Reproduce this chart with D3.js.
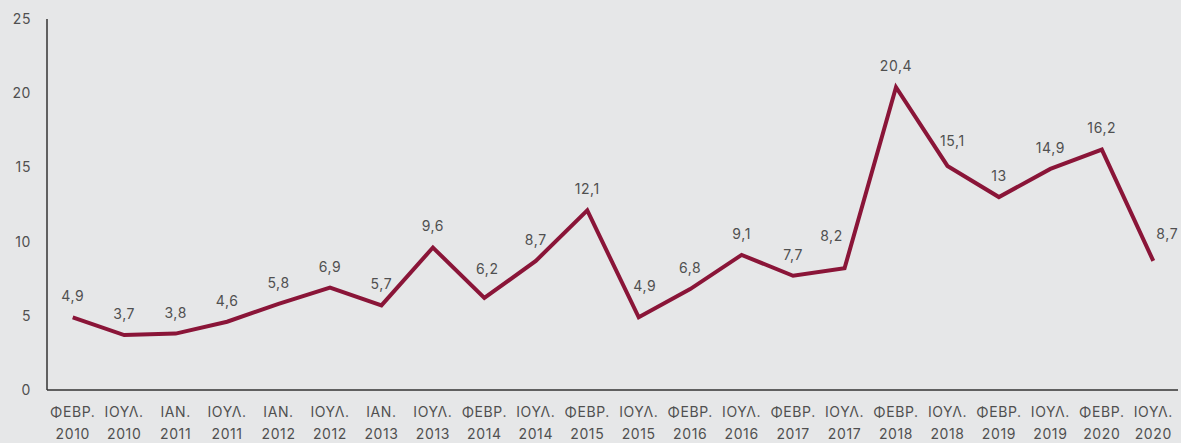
<!DOCTYPE html>
<html>
<head>
<meta charset="utf-8">
<script src="https://cdn.jsdelivr.net/npm/d3@7"></script>
<style>
  html, body { margin: 0; padding: 0; background: #e6e7e8; }
  svg { display: block; }
  text { font-family: "Inter", "Noto Sans", sans-serif; fill: #505050; letter-spacing: 0.6px; }
</style>
</head>
<body>
<svg id="chart" width="1181" height="443"></svg>
<script>
const months = ["ΦΕΒΡ.", "ΙΟΥΛ.", "ΙΑΝ.", "ΙΟΥΛ.", "ΙΑΝ.", "ΙΟΥΛ.", "ΙΑΝ.", "ΙΟΥΛ.", "ΦΕΒΡ.", "ΙΟΥΛ.", "ΦΕΒΡ.",
                "ΙΟΥΛ.", "ΦΕΒΡ.", "ΙΟΥΛ.", "ΦΕΒΡ.", "ΙΟΥΛ.", "ΦΕΒΡ.", "ΙΟΥΛ.", "ΦΕΒΡ.", "ΙΟΥΛ.", "ΦΕΒΡ.", "ΙΟΥΛ."]
const years = ["2010", "2010", "2011", "2011", "2012", "2012", "2013", "2013", "2014", "2014", "2015",
               "2015", "2016", "2016", "2017", "2017", "2018", "2018", "2019", "2019", "2020", "2020"]
const values = [4.9, 3.7, 3.8, 4.6, 5.8, 6.9, 5.7, 9.6, 6.2, 8.7, 12.1,
                4.9, 6.8, 9.1, 7.7, 8.2, 20.4, 15.1, 13, 14.9, 16.2, 8.7]
const yTicks = [0, 5, 10, 15, 20, 25]

const LEFT = 47, RIGHT = 1179, TOP = 19, BOTTOM = 390
const LINE_COLOR = "#8a1538"

const svg = d3.select("#chart")
const idx = values.map((d, i) => i)

const x = d3.scaleBand().domain(idx).range([LEFT, RIGHT])
const y = d3.scaleLinear().domain([0, 25]).range([BOTTOM, TOP])
const cx = i => x(i) + x.bandwidth() / 2

// y axis
svg.append("line")
  .attr("x1", LEFT).attr("x2", LEFT)
  .attr("y1", y(25)).attr("y2", y(0))
  .attr("stroke", "#333").attr("stroke-width", 1.5)

svg.append("g").selectAll("text")
  .data(yTicks)
  .enter().append("text")
  .attr("x", 31)
  .attr("y", d => y(d))
  .attr("dy", "0.35em")
  .attr("text-anchor", "end")
  .attr("font-size", 14)
  .text(d => d)

// x axis
svg.append("line")
  .attr("x1", LEFT).attr("x2", RIGHT - 1)
  .attr("y1", y(0)).attr("y2", y(0))
  .attr("stroke", "#333").attr("stroke-width", 1.5)

const xl = svg.append("g").selectAll("text")
  .data(idx)
  .enter().append("text")
  .attr("x", cx)
  .attr("y", 417)
  .attr("text-anchor", "middle")
  .attr("font-size", 14)

xl.append("tspan").attr("x", cx).text(i => months[i])
xl.append("tspan").attr("x", cx).attr("dy", 22).text(i => years[i])

// line
const line = d3.line()
  .x(i => cx(i))
  .y(i => y(values[i]))

svg.append("path")
  .datum(idx)
  .attr("fill", "none")
  .attr("stroke", LINE_COLOR)
  .attr("stroke-width", 4)
  .attr("stroke-linejoin", "miter")
  .attr("d", line)

// value labels: above the point, a few moved off the line by hand
const nudge = { 8: [3, -29], 11: [6, -31], 15: [-13, -32], 17: [5, -25], 21: [14, -27] }
svg.append("g").selectAll("text")
  .data(idx)
  .enter().append("text")
  .attr("x", i => cx(i) + (nudge[i] ? nudge[i][0] : 0))
  .attr("y", i => y(values[i]) + (nudge[i] ? nudge[i][1] : -21))
  .attr("dy", "0.35em")
  .attr("text-anchor", "middle")
  .attr("font-size", 14)
  .text(i => String(values[i]).replace(".", ","))
</script>
</body>
</html>
